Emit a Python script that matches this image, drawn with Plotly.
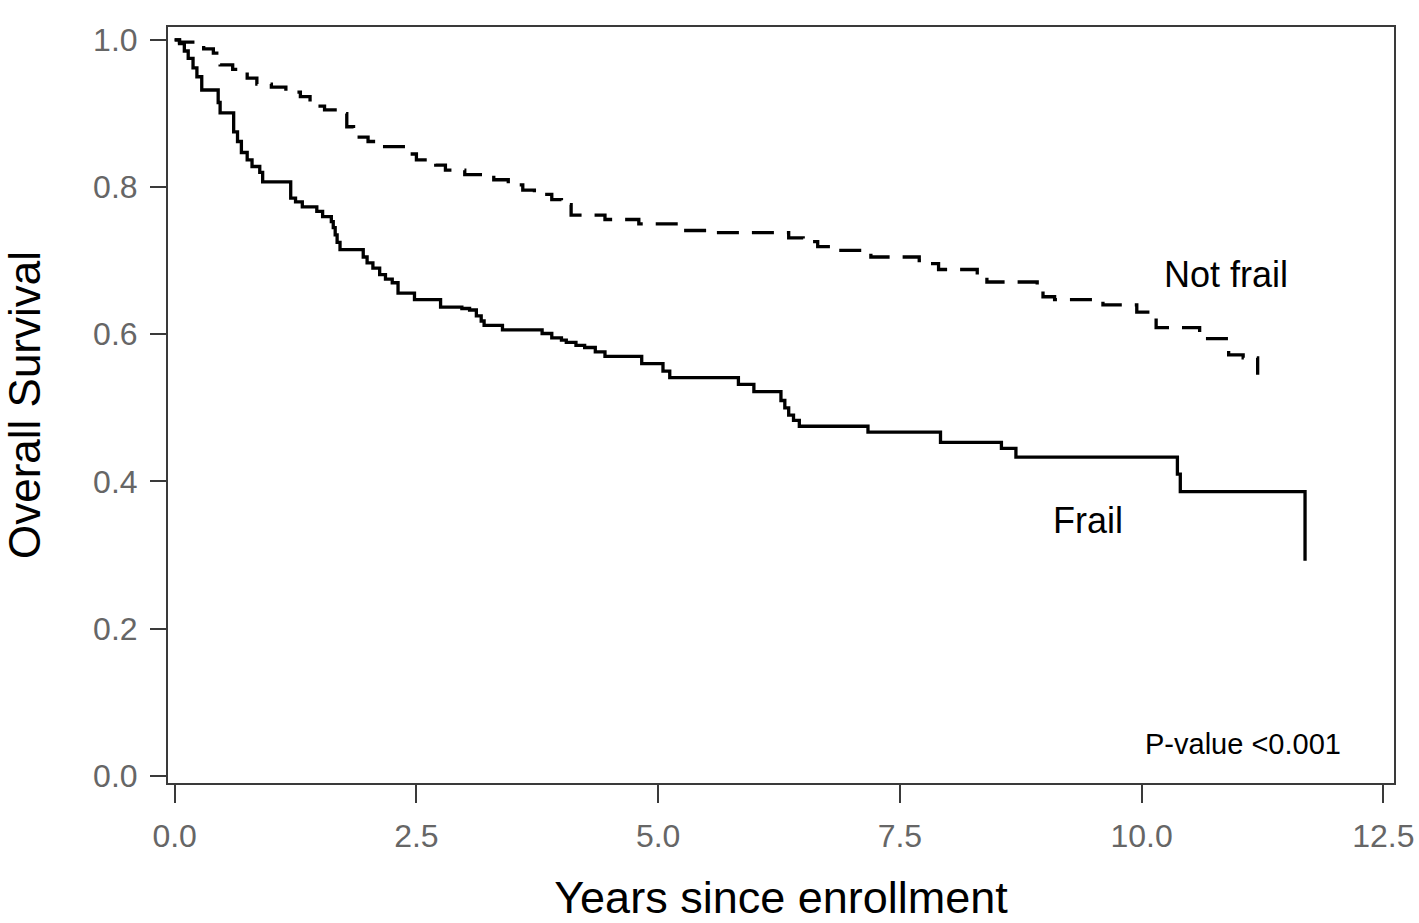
import plotly.graph_objects as go

# Kaplan-Meier step data
frail_t = [0, 0.05, 0.1, 0.14, 0.19, 0.23, 0.28, 0.45, 0.47, 0.61, 0.65, 0.69, 0.75, 0.8, 0.88, 0.91,
           1.2, 1.25, 1.32, 1.47, 1.53, 1.62, 1.64, 1.66, 1.68, 1.71, 1.95, 1.99, 2.05, 2.12, 2.18, 2.25,
           2.31, 2.48, 2.75, 2.97, 3.05, 3.12, 3.17, 3.2, 3.39, 3.8, 3.9, 4.0, 4.05, 4.15, 4.24, 4.35,
           4.45, 4.83, 5.05, 5.12, 5.83, 5.99, 6.27, 6.31, 6.35, 6.4, 6.46, 7.17, 7.92, 8.55, 8.7,
           10.37, 10.4, 11.69]
frail_s = [1.0, 0.995, 0.985, 0.975, 0.962, 0.95, 0.932, 0.915, 0.901, 0.875, 0.862, 0.847, 0.837, 0.828,
           0.82, 0.807, 0.785, 0.78, 0.773, 0.767, 0.76, 0.753, 0.745, 0.735, 0.725, 0.715, 0.705, 0.697,
           0.69, 0.681, 0.675, 0.67, 0.656, 0.647, 0.637, 0.635, 0.633, 0.625, 0.618, 0.612, 0.606, 0.601,
           0.595, 0.592, 0.589, 0.585, 0.582, 0.576, 0.57, 0.56, 0.55, 0.541, 0.532, 0.522, 0.51, 0.50,
           0.49, 0.483, 0.475, 0.467, 0.453, 0.445, 0.433, 0.41, 0.386, 0.292]

notfrail_t = [0, 0.05, 0.3, 0.4, 0.47, 0.6, 0.75, 0.85, 1.0, 1.15, 1.3, 1.4, 1.55, 1.7, 1.78, 1.85,
              2.0, 2.15, 2.4, 2.5, 2.7, 2.8, 3.0, 3.3, 3.45, 3.6, 3.72, 3.9, 4.0, 4.1, 4.45, 4.8, 5.25,
              5.6, 6.35, 6.5, 6.65, 6.8, 7.2, 7.7, 7.8, 7.9, 8.3, 8.4, 8.92, 8.98, 9.1, 9.6, 9.95, 10.15,
              10.6, 10.9, 11.05, 11.2]
notfrail_s = [1.0, 0.997, 0.988, 0.982, 0.966, 0.96, 0.948, 0.94, 0.936, 0.929, 0.923, 0.91, 0.905, 0.9,
              0.882, 0.868, 0.862, 0.855, 0.845, 0.837, 0.83, 0.823, 0.817, 0.81, 0.803, 0.796, 0.79,
              0.783, 0.776, 0.762, 0.756, 0.75, 0.741, 0.738, 0.731, 0.726, 0.719, 0.714, 0.705, 0.70,
              0.696, 0.688, 0.681, 0.671, 0.66, 0.651, 0.647, 0.64, 0.63, 0.609, 0.594, 0.572, 0.568, 0.545]

x_ticks = [0.0, 2.5, 5.0, 7.5, 10.0, 12.5]
x_tick_labels = ["0.0", "2.5", "5.0", "7.5", "10.0", "12.5"]
y_ticks = [0.0, 0.2, 0.4, 0.6, 0.8, 1.0]
y_tick_labels = ["0.0", "0.2", "0.4", "0.6", "0.8", "1.0"]

label_notfrail = ("Not frail", 10.87, 0.681)
label_frail = ("Frail", 9.45, 0.347)
label_p = ("P-value <0.001", 11.05, 0.043)

fig = go.Figure()
fig.add_trace(go.Scatter(x=notfrail_t, y=notfrail_s, mode="lines", line_shape="hv",
                         line=dict(color="black", width=3.3, dash="22px,13px"), name="Not frail"))
fig.add_trace(go.Scatter(x=frail_t, y=frail_s, mode="lines", line_shape="hv",
                         line=dict(color="black", width=3.3), name="Frail"))

for txt, xx, yy, sz in [(label_notfrail[0], label_notfrail[1], label_notfrail[2], 36),
                        (label_frail[0], label_frail[1], label_frail[2], 36),
                        (label_p[0], label_p[1], label_p[2], 29)]:
    fig.add_annotation(x=xx, y=yy, text=txt, showarrow=False, xanchor="center", yanchor="middle",
                       font=dict(family="Liberation Sans, Arial", size=sz, color="black"))

axis_common = dict(showline=True, mirror=True, linecolor="#3a3a3a", linewidth=2,
                   ticks="outside", tickcolor="#3a3a3a", tickwidth=2,
                   showgrid=False, zeroline=False, automargin=False,
                   tickfont=dict(family="Liberation Sans, Arial", size=32, color="#666666"))

fig.update_xaxes(range=[-0.069, 12.61], tickvals=x_ticks, ticktext=x_tick_labels, ticklen=18,
                 ticklabelstandoff=6,
                 title=dict(text="Years since enrollment", standoff=49,
                            font=dict(family="Liberation Sans, Arial", size=45, color="black")),
                 **axis_common)
fig.update_yaxes(range=[-0.0099, 1.0176], tickvals=y_ticks, ticktext=y_tick_labels, ticklen=16,
                 ticklabelstandoff=6,
                 title=dict(text="Overall Survival", standoff=45,
                            font=dict(family="Liberation Sans, Arial", size=44, color="black")),
                 **axis_common)

fig.update_layout(width=1419, height=923, margin=dict(l=168, r=25, t=27, b=140),
                  plot_bgcolor="white", paper_bgcolor="white", showlegend=False)

fig.write_html("out.html", config={"displayModeBar": False},
               post_script="document.body.style.margin='0';")
